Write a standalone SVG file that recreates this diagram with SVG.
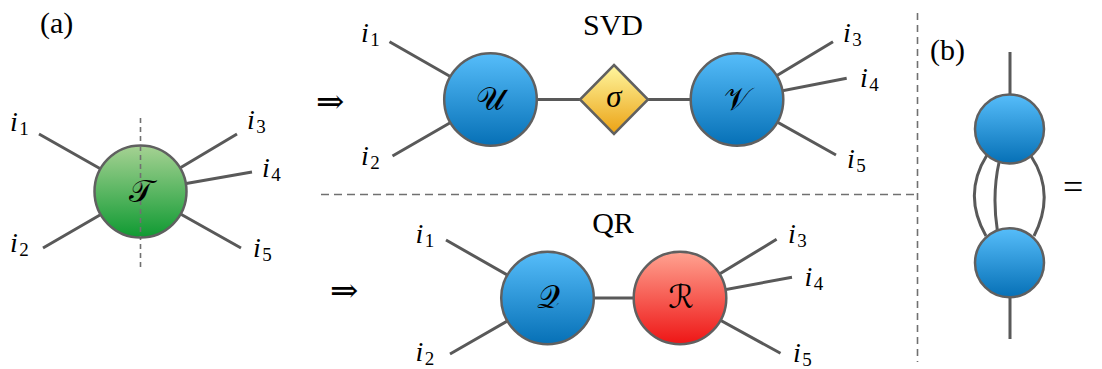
<svg xmlns="http://www.w3.org/2000/svg" width="1102" height="369" viewBox="0 0 1102 369">
<style>
.leg{stroke:#595959;stroke-width:3;fill:none;stroke-linecap:butt}
.node{stroke:#606060;stroke-width:2.5}
.lbl{font-family:"Liberation Serif","DejaVu Serif",serif;font-style:italic;font-size:28px;fill:#000}
.sub{font-style:normal;font-size:19px}
.txt{font-family:"Liberation Serif","DejaVu Serif",serif;font-size:30px;fill:#000}
.cal{font-family:"DejaVu Serif","DejaVu Sans","Liberation Serif",serif;font-size:32px;fill:#000;text-anchor:middle}
.arr{font-family:"DejaVu Serif","DejaVu Sans",serif;font-size:34px;fill:#000}
.dash{stroke:#707070;stroke-width:1.6;fill:none}
</style>
<defs>
<linearGradient id="gGreen" x1="0" y1="0" x2="0" y2="1"><stop offset="0" stop-color="#a6d293"/><stop offset="1" stop-color="#0f9a32"/></linearGradient>
<linearGradient id="gBlue" x1="0" y1="0" x2="0" y2="1"><stop offset="0" stop-color="#56bdfa"/><stop offset="1" stop-color="#0670b6"/></linearGradient>
<linearGradient id="gRed" x1="0" y1="0" x2="0" y2="1"><stop offset="0" stop-color="#ffa391"/><stop offset="1" stop-color="#ee1515"/></linearGradient>
<linearGradient id="gYellow" x1="0" y1="0" x2="0" y2="1"><stop offset="0" stop-color="#fff7a0"/><stop offset="1" stop-color="#eba214"/></linearGradient>
</defs>

<g id="separators">
<line class="dash" x1="140.5" y1="118" x2="140.5" y2="267" stroke-dasharray="5 4"/>
<line class="dash" x1="321" y1="194.5" x2="917" y2="194.5" stroke-dasharray="8 5"/>
<line class="dash" x1="917.5" y1="13" x2="917.5" y2="362" stroke="#444" stroke-width="1.2" stroke-dasharray="7 5"/>
</g>

<g id="connectors">
<path class="leg" d="M39,134 L140.5,191.5 M43,248 L140.5,191.5 M237,134 L140.5,191.5 M252,172 L140.5,191.5 M241,248 L140.5,191.5"/>
<path class="leg" d="M389.5,41.7 L490.5,99.5 M392.5,156 L490.5,99.5 M490.5,99.5 H737 M833,41.7 L737,99.5 M846.7,78.3 L737,99.5 M836,155 L737,99.5"/>
<path class="leg" d="M446,240 L547.5,298 M450,354 L547.5,298 M547.5,298 H680 M776.6,239.3 L680,298 M792,277.3 L680,298 M780.5,353.3 L680,298"/>
<path class="leg" d="M1010,52 V129 M1010,262.8 V339 M987,155 C970,182 970,208 986,236 M999.3,161 C993.9,185 993.9,208 997.3,230 M1031,156 C1048.3,182 1048.3,208 1034,236"/>
</g>

<g id="node-T">
<circle class="node" cx="140.5" cy="191.5" r="46" fill="url(#gGreen)"/>
<line class="dash" x1="140.5" y1="146" x2="140.5" y2="237" stroke-dasharray="5 4"/>
<text class="cal" x="141" y="202">𝒯</text>
</g>
<g id="node-U">
<circle class="node" cx="490.5" cy="99.5" r="46.3" fill="url(#gBlue)"/>
<text class="cal" x="490.5" y="110">𝒰</text>
</g>
<g id="node-sigma">
<polygon class="node" points="614,65 648,99.5 614,134 580,99.5" fill="url(#gYellow)"/>
<text class="cal" x="614" y="107" style="font-family:'Liberation Serif',serif;font-style:italic;font-size:31px">σ</text>
</g>
<g id="node-V">
<circle class="node" cx="737" cy="99.5" r="46.3" fill="url(#gBlue)"/>
<text class="cal" x="737" y="110">𝒱</text>
</g>
<g id="node-Q">
<circle class="node" cx="547.5" cy="298" r="46.3" fill="url(#gBlue)"/>
<text class="cal" x="548" y="308">𝒬</text>
</g>
<g id="node-R">
<circle class="node" cx="680" cy="298" r="46.3" fill="url(#gRed)"/>
<text class="cal" x="681" y="308">ℛ</text>
</g>
<g id="node-b-top">
<circle class="node" cx="1009.5" cy="129" r="34.5" fill="url(#gBlue)"/>
</g>
<g id="node-b-bottom">
<circle class="node" cx="1009.5" cy="262.8" r="34.5" fill="url(#gBlue)"/>
</g>

<g id="labels">
<text class="txt" x="40" y="33">(a)</text>
<text class="txt" x="930" y="60">(b)</text>
<text class="txt" x="613" y="35" text-anchor="middle">SVD</text>
<text class="txt" x="613" y="233" text-anchor="middle">QR</text>
<text class="arr" x="316" y="113">⇒</text>
<text class="arr" x="330" y="302">⇒</text>
<text class="txt" x="1063" y="199" style="font-size:36px">=</text>

<text class="lbl" x="10" y="131">i<tspan class="sub" dx="1.5" dy="4">1</tspan></text>
<text class="lbl" x="10" y="252">i<tspan class="sub" dx="1.5" dy="4">2</tspan></text>
<text class="lbl" x="247" y="129">i<tspan class="sub" dx="1.5" dy="4">3</tspan></text>
<text class="lbl" x="262" y="177">i<tspan class="sub" dx="1.5" dy="4">4</tspan></text>
<text class="lbl" x="253" y="257">i<tspan class="sub" dx="1.5" dy="4">5</tspan></text>

<text class="lbl" x="361" y="42">i<tspan class="sub" dx="1.5" dy="4">1</tspan></text>
<text class="lbl" x="361" y="165">i<tspan class="sub" dx="1.5" dy="4">2</tspan></text>
<text class="lbl" x="843" y="42">i<tspan class="sub" dx="1.5" dy="4">3</tspan></text>
<text class="lbl" x="860" y="87">i<tspan class="sub" dx="1.5" dy="4">4</tspan></text>
<text class="lbl" x="847" y="168">i<tspan class="sub" dx="1.5" dy="4">5</tspan></text>

<text class="lbl" x="415.5" y="243">i<tspan class="sub" dx="1.5" dy="4">1</tspan></text>
<text class="lbl" x="415.5" y="361">i<tspan class="sub" dx="1.5" dy="4">2</tspan></text>
<text class="lbl" x="788" y="243">i<tspan class="sub" dx="1.5" dy="4">3</tspan></text>
<text class="lbl" x="804.5" y="286">i<tspan class="sub" dx="1.5" dy="4">4</tspan></text>
<text class="lbl" x="793" y="362">i<tspan class="sub" dx="1.5" dy="4">5</tspan></text>
</g>
</svg>
